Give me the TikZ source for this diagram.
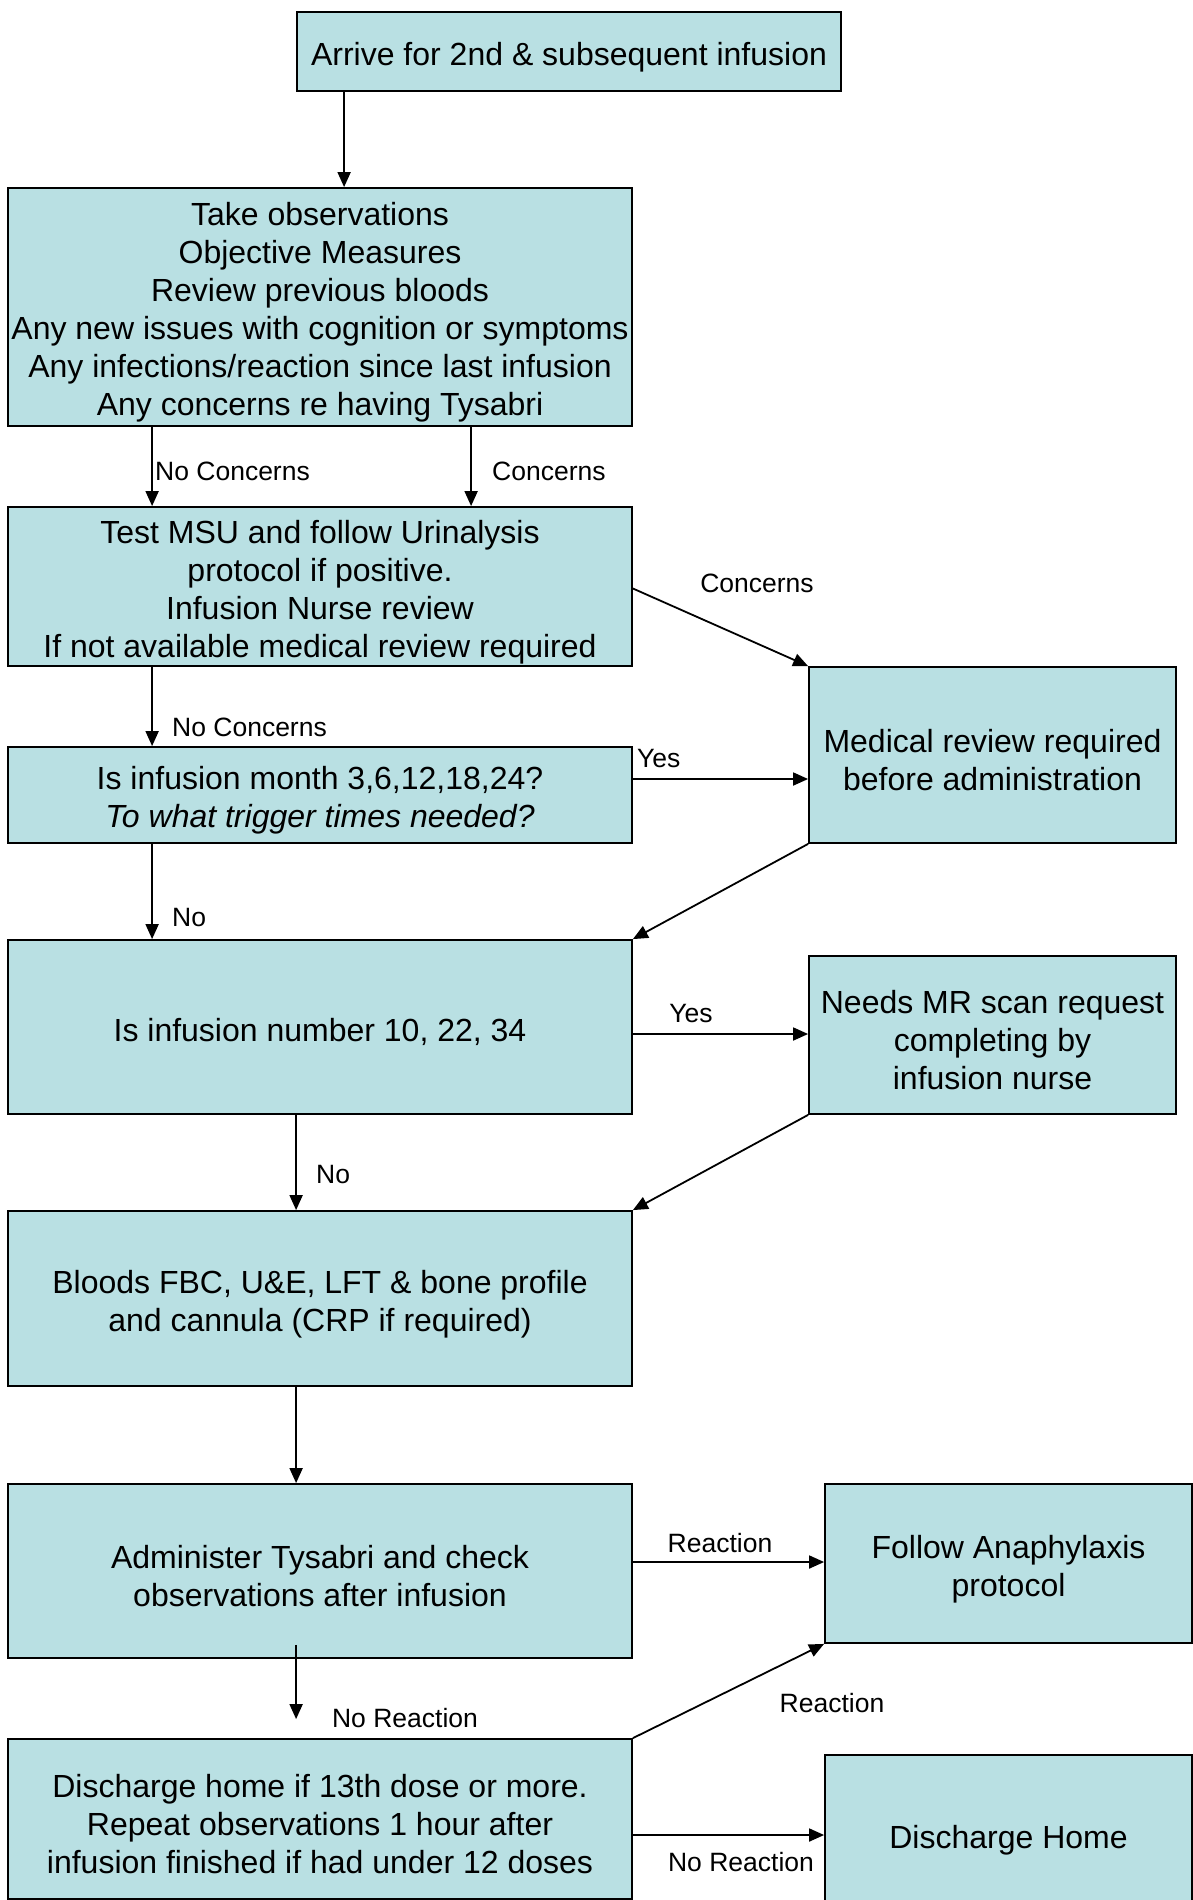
\documentclass[tikz,border=0pt]{standalone}
\usepackage{fontspec}
\setmainfont{Liberation Sans}
\usetikzlibrary{arrows.meta}
\definecolor{boxfill}{RGB}{185,224,227}
\newcommand{\tsp}{\rule{0pt}{1.06em}}
\begin{document}
\begin{tikzpicture}[x=1pt,y=-1pt,
  box/.style={draw=black, line width=1.8pt, fill=boxfill, align=center, inner sep=0pt,
    font=\fontsize{32}{38}\selectfont},
  arr/.style={line width=1.8pt, -{Triangle[length=15pt,width=13pt]}},
  lbl/.style={inner sep=0pt, font=\fontsize{26.5}{32}\selectfont}]
\useasboundingbox (0,0) rectangle (1193,1900);
\fill[white] (0,0) rectangle (1193,1900);

\node[box, minimum width=544pt, minimum height=79pt] (b1) at (569,51.5) {\tsp Arrive for 2nd \& subsequent infusion};
\node[box, minimum width=624pt, minimum height=238pt] (b2) at (320,307) {\tsp Take observations\\Objective Measures\\Review previous bloods\\Any new issues with cognition or symptoms\\Any infections/reaction since last infusion\\Any concerns re having Tysabri};
\node[box, minimum width=624pt, minimum height=159pt] (b3) at (320,586.5) {\tsp Test MSU and follow Urinalysis\\protocol if positive.\\Infusion Nurse review\\If not available medical review required};
\node[box, minimum width=624pt, minimum height=96pt] (b4) at (320,795) {\tsp Is infusion month 3,6,12,18,24?\\\textit{To what trigger times needed?}};
\node[box, minimum width=367pt, minimum height=176pt] (med) at (992.5,755) {\tsp Medical review required\\before administration};
\node[box, minimum width=624pt, minimum height=174pt] (b5) at (320,1027) {\tsp Is infusion number 10, 22, 34};
\node[box, minimum width=367pt, minimum height=158pt] (mr) at (992.5,1035) {\tsp Needs MR scan request\\completing by\\infusion nurse};
\node[box, minimum width=624pt, minimum height=175pt] (b6) at (320,1298.5) {\tsp Bloods FBC, U\&E, LFT \& bone profile\\and cannula (CRP if required)};
\node[box, minimum width=624pt, minimum height=174pt] (b7) at (320,1571) {\tsp Administer Tysabri and check\\observations after infusion};
\node[box, minimum width=367pt, minimum height=159pt] (ana) at (1008.5,1563.5) {\tsp Follow Anaphylaxis\\protocol};
\node[box, minimum width=624pt, minimum height=160pt] (b9) at (320,1819) {\tsp Discharge home if 13th dose or more.\\Repeat observations 1 hour after\\infusion finished if had under 12 doses};
\node[box, minimum width=367pt, minimum height=160pt] (home) at (1008.5,1835) {\tsp Discharge Home};

% connectors
\draw[arr] ([xshift=48pt]b1.south west) -- ([xshift=337pt]b2.north west);
\draw[arr] ([xshift=145pt]b2.south west) -- ([xshift=145pt]b3.north west);
\draw[arr] ([xshift=464pt]b2.south west) -- ([xshift=464pt]b3.north west);
\draw[arr] ([yshift=-2pt]b3.east) -- (med.north west);
\draw[arr] ([xshift=145pt]b3.south west) -- ([xshift=145pt]b4.north west);
\draw[arr] ([yshift=16pt]b4.east) -- ([yshift=-24pt]med.west);
\draw[arr] (med.south west) -- (b5.north east);
\draw[arr] ([xshift=145pt]b4.south west) -- ([xshift=145pt]b5.north west);
\draw[arr] ([yshift=-7pt]b5.east) -- ([yshift=1pt]mr.west);
\draw[arr] (mr.south west) -- (b6.north east);
\draw[arr] ([xshift=289pt]b5.south west) -- ([xshift=289pt]b6.north west);
\draw[arr] ([xshift=289pt]b6.south west) -- ([xshift=289pt]b7.north west);
\draw[arr] ([yshift=9pt]b7.east) -- ([yshift=1.5pt]ana.west);
\draw[arr] ([xshift=289pt,yshift=14pt]b7.south west) -- ([xshift=289pt,yshift=19pt]b9.north west);
\draw[arr] (b9.north east) -- (ana.south west);
\draw[arr] ([yshift=-16pt]b9.east) -- ([yshift=0pt]home.west);

% labels
\node[lbl, anchor=west] (l1) at (155,471) {No Concerns};
\node[lbl, anchor=west] (l2) at (492,471) {Concerns};
\node[lbl] (l3) at (757,583) {Concerns};
\node[lbl, anchor=west] (l4) at (172,727) {No Concerns};
\node[lbl, anchor=west] (l5) at (637,759) {Yes};
\node[lbl, anchor=west] (l6) at (172,918) {No};
\node[lbl] (l7) at (691,1014) {Yes};
\node[lbl, anchor=west] (l8) at (316,1174) {No};
\node[lbl] (l9) at (720,1543) {Reaction};
\node[lbl] (l10) at (405,1718) {No Reaction};
\node[lbl] (l11) at (832,1703) {Reaction};
\node[lbl] (l12) at (741,1862) {No Reaction};
\end{tikzpicture}
\end{document}
